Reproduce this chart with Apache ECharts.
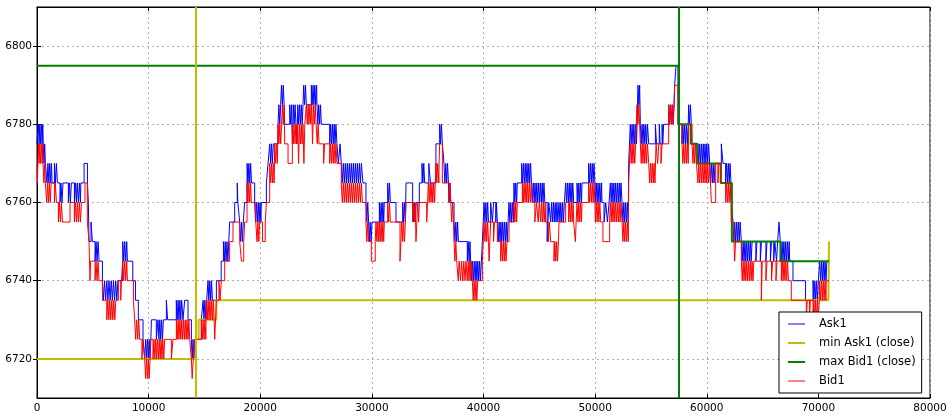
<!DOCTYPE html>
<html>
<head>
<meta charset="utf-8">
<script src="https://cdn.jsdelivr.net/npm/echarts@6.0.0/dist/echarts.min.js"></script>
<style>
  html, body { margin: 0; padding: 0; background: #fff; }
  #chart { width: 952px; height: 419px; }
</style>
</head>
<body>
<div id="chart"></div>
<script>
// tick index vs best ask / best bid (step lines)
var ask1 = [
  [0,6775],[120,6780],[190,6775],[250,6780],[320,6775],[390,6780],[460,6775],[520,6780],[560,6775],
  [620,6770],[690,6775],[750,6770],
  [900,6765],[980,6770],[1060,6765],[1140,6770],[1220,6765],[1300,6770],[1350,6765],
  [1560,6770],[1650,6765],[1740,6770],[1830,6765],
  [2060,6760],[2150,6765],[2240,6760],[2330,6765],
  [2810,6760],[2900,6765],[2990,6760],[3080,6765],
  [3350,6760],[3440,6765],[3530,6760],[3600,6765],[3710,6760],[3800,6765],[3890,6760],[3930,6765],
  [4220,6770],[4520,6765],[4600,6760],[4660,6750],[4840,6755],[4960,6750],
  [5200,6745],[5290,6750],[5380,6745],[5470,6750],[5560,6745],
  [5860,6740],[5950,6735],[6050,6740],[6150,6735],[6250,6740],[6350,6735],[6450,6740],[6550,6735],[6650,6740],[6750,6735],[6850,6740],[6950,6735],[7050,6740],[7150,6735],[7250,6740],
  [7680,6750],[7770,6745],[7860,6750],[7950,6745],[8040,6750],[8100,6745],
  [8580,6740],[8820,6735],[9080,6730],
  [9500,6725],[9650,6720],[9730,6725],[9810,6720],[9890,6725],[9970,6720],[10050,6725],[10130,6720],[10200,6725],
  [10250,6730],[10690,6725],
  [10840,6730],[10920,6725],[11000,6730],[11080,6725],[11160,6730],[11240,6725],[11320,6730],
  [11590,6735],[11700,6730],
  [12480,6735],[12560,6730],[12640,6735],[12720,6730],[12800,6735],[12880,6730],[12960,6735],[13080,6730],
  [13230,6735],[13530,6730],
  [13830,6725],[13900,6720],[13980,6725],[14060,6720],[14130,6725],
  [14720,6730],[14880,6735],[14960,6730],[15040,6735],[15120,6730],[15200,6735],
  [15320,6740],[15400,6735],[15480,6740],[15560,6735],[15640,6740],[15720,6735],
  [16070,6740],[16500,6745],[16700,6750],[16780,6745],[16860,6750],[16940,6745],[17020,6750],[17100,6745],[17180,6750],
  [17260,6755],[17710,6760],[17940,6765],[17990,6760],[18160,6755],[18240,6750],[18320,6755],[18400,6750],[18480,6755],
  [18600,6760],[18820,6770],[18900,6765],[18980,6770],[19060,6765],[19140,6770],[19220,6765],
  [19500,6760],[19580,6755],[19660,6760],[19740,6755],[19820,6760],[19900,6755],[19980,6760],[20060,6755],[20100,6760],
  [20550,6765],[20700,6770],[20850,6775],[20930,6770],[21010,6775],[21090,6770],[21170,6775],
  [21590,6780],[21670,6785],[21750,6780],[21830,6785],[21900,6790],[21980,6785],[22060,6790],[22140,6785],[22190,6780],
  [22640,6785],[22720,6780],[22800,6785],[22880,6775],[22960,6785],[23040,6780],[23120,6785],[23200,6780],[23280,6775],[23360,6785],[23440,6780],[23520,6785],[23600,6780],[23680,6785],[23760,6780],[23830,6785],
  [23890,6790],[23970,6785],[24050,6790],[24130,6785],
  [24575,6790],[24650,6785],[24730,6790],[24810,6785],[24890,6790],[24970,6785],[25050,6790],
  [25080,6785],[25160,6780],[25240,6785],[25320,6780],[25400,6785],
  [25470,6780],
  [26220,6775],[26300,6780],[26380,6775],[26460,6780],[26540,6775],[26620,6780],[26700,6775],[26780,6780],[26870,6775],
  [27000,6770],[27150,6775],
  [27260,6770],[27350,6765],[27440,6770],[27530,6765],[27620,6770],[27710,6765],[27800,6770],[27890,6765],[27980,6770],[28070,6765],[28160,6770],[28250,6765],[28340,6770],[28430,6765],[28520,6770],[28610,6765],[28700,6770],[28790,6765],[28880,6770],[28970,6765],[29060,6770],[29200,6765],
  [29470,6760],[29550,6755],[29630,6760],[29710,6755],
  [29770,6750],[29850,6755],[29930,6750],[30010,6755],
  [30670,6760],[30750,6755],[30830,6760],[30910,6755],[30990,6760],[31060,6755],[31115,6760],
  [31415,6765],[31500,6760],[31580,6765],[31660,6760],
  [32160,6755],[32760,6760],[32840,6755],[32920,6760],[33000,6755],
  [33060,6765],[33650,6760],[33730,6755],[33810,6760],[33890,6755],[33970,6760],
  [34250,6765],[34490,6770],[34570,6765],[34650,6770],[34730,6765],
  [35100,6770],[35250,6765],
  [35740,6775],[36075,6780],[36150,6775],[36230,6780],[36315,6775],
  [36460,6770],[36540,6765],[36620,6770],[36700,6765],[36780,6770],[36860,6765],
  [36910,6760],[36990,6765],[37070,6760],
  [37360,6755],[37440,6750],[37520,6755],[37600,6750],[37680,6755],[37750,6750],
  [38550,6745],[38630,6750],[38710,6745],[38790,6750],
  [38850,6745],[38930,6740],[39010,6745],[39090,6740],[39170,6745],[39250,6740],[39330,6745],[39410,6740],[39490,6745],[39570,6740],[39650,6745],[39730,6740],[39810,6745],
  [39900,6750],[40050,6760],[40130,6755],[40210,6760],[40290,6755],[40370,6760],[40450,6755],
  [40640,6760],[40800,6755],[40900,6760],[41100,6755],[41160,6760],
  [41240,6755],[41320,6750],[41400,6755],[41480,6750],[41560,6755],[41640,6750],[41720,6755],[41800,6750],[41880,6755],[41960,6750],[42040,6755],[42120,6750],[42200,6755],
  [42285,6760],[42365,6755],[42445,6760],[42525,6755],[42605,6760],[42685,6755],
  [42730,6765],[42810,6760],[42890,6765],[42970,6760],
  [43030,6765],
  [43420,6770],[43500,6765],[43580,6770],[43660,6765],[43740,6770],[43820,6765],[43900,6770],[43980,6765],[44060,6770],[44140,6765],[44220,6770],[44300,6765],
  [44375,6760],[44455,6765],[44535,6760],[44615,6765],[44695,6760],[44775,6765],[44855,6760],[44935,6765],[45015,6760],[45095,6765],[45175,6760],[45255,6765],[45335,6760],[45415,6765],[45495,6760],
  [45700,6750],[45850,6760],
  [46020,6755],[46100,6760],[46180,6755],[46260,6760],[46340,6755],[46420,6760],[46500,6755],[46580,6760],[46660,6755],[46765,6760],
  [46845,6755],[46925,6760],[47005,6755],[47085,6760],[47165,6755],[47245,6760],
  [47360,6765],[47440,6760],[47520,6765],[47600,6760],[47680,6765],[47760,6760],[47840,6765],[47920,6760],[48000,6765],
  [48080,6760],
  [48380,6765],[48460,6760],[48540,6765],[48620,6760],[48700,6765],[48780,6760],
  [48825,6765],
  [49420,6770],[49500,6765],[49580,6770],[49660,6765],[49740,6770],[49820,6765],[49900,6770],[49980,6765],
  [50020,6760],[50100,6765],[50180,6760],[50260,6765],[50340,6760],[50420,6765],[50500,6760],[50580,6765],
  [50615,6760],[50800,6755],[50950,6760],[51100,6755],[51250,6760],
  [51360,6765],[51440,6760],[51520,6765],[51600,6760],[51680,6765],[51760,6760],[51840,6765],[51920,6760],[52000,6765],[52080,6760],[52160,6765],[52240,6760],[52320,6765],
  [52410,6760],[52490,6755],[52570,6760],[52650,6755],[52730,6760],[52810,6755],[52890,6760],[52970,6755],
  [53005,6770],[53150,6780],[53230,6775],[53310,6780],[53390,6775],[53470,6780],[53550,6775],[53630,6780],[53710,6775],
  [53840,6790],[53920,6785],[53990,6790],
  [54050,6780],[54130,6775],[54210,6780],[54290,6775],[54370,6780],[54450,6775],[54530,6780],[54610,6775],[54690,6780],
  [54800,6775],
  [55400,6780],[55500,6775],[55750,6780],[55820,6775],[56000,6780],[56060,6775],
  [56140,6780],
  [56590,6785],[56670,6780],[56750,6785],[56830,6780],[56910,6785],[56990,6780],[57070,6785],
  [57125,6790],[57245,6795],[57425,6780],
  [57780,6775],[57860,6780],[57940,6775],[58020,6780],[58100,6775],[58180,6780],[58260,6775],[58340,6780],
  [58380,6785],[58460,6780],[58540,6785],[58620,6780],
  [58680,6775],
  [59125,6770],[59205,6775],[59285,6770],[59365,6775],[59445,6770],[59525,6775],[59605,6770],[59685,6775],[59765,6770],[59845,6775],[59925,6770],[60005,6775],[60085,6770],[60165,6775],
  [60260,6770],[60340,6765],[60420,6770],[60500,6765],[60580,6770],[60660,6765],[60740,6770],
  [61305,6775],[61455,6770],
  [61690,6765],[61770,6770],[61850,6765],[61930,6770],[62010,6765],[62090,6770],[62170,6765],
  [62200,6760],[62350,6755],[62430,6750],[62510,6755],[62590,6750],[62670,6755],[62750,6750],[62830,6755],[62910,6750],[62990,6755],
  [63100,6750],[63180,6745],[63260,6750],[63340,6745],[63420,6750],[63500,6745],[63580,6750],[63660,6745],[63740,6750],[63820,6745],[63900,6750],[63980,6745],[64060,6750],
  [64400,6745],[64500,6750],[64800,6745],[64900,6750],[65300,6745],[65400,6750],[65700,6745],[65800,6750],[66000,6745],[66100,6750],[66250,6745],[66350,6750],
  [66470,6755],[66590,6750],[66670,6745],[66750,6750],[66830,6745],[66910,6750],[66990,6745],[67070,6750],[67150,6745],[67230,6750],[67310,6745],[67390,6750],
  [67425,6745],[67725,6740],[68850,6735],
  [69520,6740],[69600,6735],[69680,6740],[69760,6735],[69840,6740],[69920,6735],[70000,6740],
  [70115,6745],[70200,6740],[70280,6745],[70360,6740],[70440,6745],[70520,6740],[70600,6745],[70680,6740],[70760,6745],[70950,6745]
];

var bid1 = [
  [0,6770],[40,6765],[80,6770],
  [120,6775],[190,6770],[250,6775],[320,6770],[390,6775],[460,6770],[520,6775],
  [540,6770],[620,6765],[700,6770],
  [750,6765],[870,6760],[950,6765],[1030,6760],[1110,6765],[1190,6760],[1270,6765],
  [1560,6760],[1650,6765],[1740,6760],
  [1920,6755],[2010,6760],[2100,6755],[2190,6760],[2280,6755],
  [2960,6760],
  [3350,6755],[3440,6760],[3530,6755],[3620,6760],[3710,6755],[3800,6760],[3890,6755],[3980,6760],
  [4300,6765],[4510,6755],[4660,6750],[4750,6740],[4800,6745],
  [5200,6740],[5290,6745],[5380,6740],[5470,6745],[5560,6740],
  [5860,6735],[6250,6730],[6340,6735],[6430,6730],[6520,6735],[6610,6730],[6700,6735],[6790,6730],[6880,6735],[6970,6730],[7060,6735],
  [7290,6740],[7500,6735],[7560,6740],
  [7680,6745],[7770,6740],[7860,6745],[7950,6740],[8040,6745],
  [8100,6740],[8640,6735],[8750,6730],[8840,6725],[8930,6730],[9020,6725],[9110,6730],
  [9200,6725],[9400,6720],[9480,6725],
  [9650,6720],[9730,6715],[9810,6720],[9890,6715],[9970,6720],[10050,6715],[10130,6720],
  [10155,6725],[10395,6720],[10475,6725],[10555,6720],[10635,6725],[10715,6720],[10795,6725],[10875,6720],[10955,6725],[11035,6720],[11115,6725],[11195,6720],[11275,6725],[11355,6720],
  [11440,6725],
  [12037,6720],[12186,6725],
  [12485,6730],[12565,6725],[12645,6730],[12725,6725],[12805,6730],[12885,6725],[12965,6730],[13045,6725],[13125,6730],[13205,6725],[13285,6730],[13365,6725],[13445,6730],[13525,6725],[13605,6730],
  [13680,6725],[13830,6720],[13900,6715],[14000,6720],
  [14127,6725],
  [14725,6730],[14805,6725],[14885,6730],[14965,6725],[15045,6730],[15125,6725],
  [15170,6735],[15250,6730],[15330,6735],[15410,6730],[15490,6735],[15570,6730],[15650,6735],[15730,6730],[15810,6735],
  [15920,6725],[16070,6735],
  [16300,6740],[16400,6735],[16515,6740],
  [16815,6745],[17260,6750],[17560,6755],
  [18160,6750],[18310,6745],[18520,6750],
  [18600,6755],
  [18815,6765],[18895,6760],[18975,6765],[19055,6760],[19135,6765],
  [19200,6760],[19600,6755],
  [19710,6750],[19790,6755],[19870,6750],[19950,6755],
  [20200,6750],[20450,6755],
  [20546,6760],
  [20845,6770],[20925,6765],[21005,6770],[21085,6765],[21165,6770],[21245,6765],
  [21293,6775],[21373,6770],[21453,6775],[21533,6770],
  [21592,6780],[21672,6775],[21752,6780],[21832,6775],[21912,6780],
  [21980,6785],[22060,6780],[22140,6785],
  [22190,6775],[22490,6770],[22875,6780],[22955,6775],[23035,6780],[23115,6775],[23195,6780],[23275,6775],[23355,6780],[23435,6770],[23515,6780],[23595,6775],[23675,6780],[23755,6775],
  [23830,6780],[23910,6770],[23990,6780],
  [24130,6785],[24210,6780],[24290,6785],[24365,6780],[24445,6785],[24525,6780],[24605,6785],[24685,6775],[24765,6785],[24845,6780],[24925,6785],[25005,6780],
  [25105,6775],[25185,6780],[25265,6775],
  [25680,6770],[25760,6775],
  [26220,6770],[26300,6775],[26380,6770],[26460,6775],[26540,6770],[26620,6775],[26700,6770],[26780,6775],
  [26870,6770],
  [27260,6765],[27350,6760],[27440,6765],[27530,6760],[27620,6765],[27710,6760],[27800,6765],[27890,6760],[27980,6765],[28070,6760],[28160,6765],[28250,6760],[28340,6765],[28430,6760],[28520,6765],[28610,6760],[28700,6765],[28790,6760],[28880,6765],[28970,6760],[29060,6765],[29150,6760],
  [29470,6755],[29550,6750],[29630,6755],[29710,6750],
  [29950,6745],[30300,6750],
  [30370,6755],[30450,6750],[30530,6755],[30610,6750],
  [30670,6755],[30750,6750],[30830,6755],[30910,6750],[30990,6755],[31060,6750],
  [31115,6755],
  [31415,6760],[31495,6755],[31575,6760],[31655,6755],
  [32520,6745],[32600,6750],[32680,6755],
  [32760,6750],[32840,6755],[32920,6750],[33000,6755],
  [33060,6760],
  [33650,6755],[33730,6760],[33810,6755],[33890,6760],[33950,6750],[34030,6755],[34110,6760],[34190,6755],
  [34250,6760],[34910,6755],[34990,6760],
  [35060,6765],[35140,6760],[35220,6765],[35300,6760],[35380,6765],[35460,6760],[35540,6765],[35620,6760],
  [35740,6770],[35820,6765],[35900,6770],[36000,6765],[36020,6770],
  [36075,6775],[36315,6765],
  [36910,6760],[36990,6765],[37070,6760],
  [37150,6755],[37230,6760],[37310,6755],
  [37360,6750],[37440,6745],[37520,6750],[37600,6745],
  [37740,6740],[37820,6745],[37950,6740],[38030,6745],[38150,6740],[38230,6745],[38350,6740],[38430,6745],[38550,6740],[38630,6745],
  [38700,6740],[38780,6745],[38860,6740],[38940,6745],
  [39000,6740],[39080,6735],[39160,6740],[39240,6735],[39320,6740],[39400,6735],[39480,6740],
  [39900,6745],
  [40050,6755],[40130,6750],[40210,6755],[40290,6750],[40370,6755],[40450,6750],
  [40500,6745],[40640,6755],[40900,6750],[40980,6755],
  [41240,6750],
  [41540,6745],[41620,6750],[41700,6745],[41780,6750],[41860,6745],[41940,6750],[42020,6745],[42100,6750],
  [42285,6755],
  [42730,6760],[42810,6755],[42890,6760],[42970,6755],
  [43030,6760],
  [43480,6765],[43560,6760],[43640,6765],[43720,6760],[43800,6765],[43880,6760],[43960,6765],[44040,6760],[44120,6765],[44200,6760],[44280,6765],
  [44375,6760],[44600,6755],[44750,6760],[44900,6755],[45000,6760],
  [45120,6755],[45200,6760],[45280,6755],[45360,6760],[45440,6755],[45520,6760],
  [45570,6755],[45800,6750],[45900,6755],
  [46020,6750],
  [46315,6745],[46395,6750],[46475,6745],[46555,6750],[46635,6745],[46715,6750],
  [46765,6755],
  [47360,6760],
  [47630,6755],[47710,6760],[47790,6755],[47870,6760],[47950,6755],[48030,6760],
  [48080,6755],[48230,6750],[48300,6755],
  [48380,6760],[48460,6755],[48540,6760],[48620,6755],[48700,6760],[48780,6755],
  [48825,6760],
  [49420,6765],[49500,6760],[49580,6765],[49660,6760],[49740,6765],[49820,6760],[49900,6765],[49980,6760],
  [50020,6755],[50100,6760],[50180,6755],[50260,6760],[50340,6755],[50420,6760],[50500,6755],
  [50700,6750],[51300,6755],
  [51360,6760],[51440,6755],[51520,6760],[51600,6755],[51680,6760],[51760,6755],[51840,6760],[51920,6755],[52000,6760],[52080,6755],[52160,6760],[52240,6755],[52320,6760],
  [52410,6755],[52490,6750],[52570,6755],[52650,6750],[52730,6755],[52810,6750],[52890,6755],[52970,6750],
  [53005,6765],
  [53150,6775],[53230,6770],[53310,6775],[53390,6770],[53470,6775],[53550,6770],[53630,6775],
  [53750,6785],[53830,6780],[53910,6785],[53990,6780],
  [54050,6775],[54130,6770],[54210,6775],[54290,6770],[54370,6775],[54450,6770],[54530,6775],[54610,6770],[54690,6775],
  [54800,6770],[54880,6765],[54960,6770],[55040,6765],[55120,6770],[55200,6765],[55280,6770],[55360,6765],
  [55460,6775],[55600,6770],[55700,6775],[55900,6770],[56000,6775],
  [56590,6785],[56670,6780],[56750,6785],[56830,6780],[56910,6785],[56990,6780],[57070,6785],
  [57125,6790],[57425,6780],
  [57780,6775],[57860,6770],[57940,6775],[58020,6770],[58100,6775],[58180,6770],[58260,6775],[58340,6770],
  [58380,6780],
  [58680,6775],[58760,6770],[58840,6775],[58920,6770],[59000,6775],[59080,6770],
  [59205,6765],[59285,6770],[59365,6765],[59445,6770],[59525,6765],[59605,6770],[59685,6765],[59765,6770],[59845,6765],[59925,6770],[60005,6765],[60085,6770],[60165,6765],
  [60260,6770],[60410,6760],[60800,6770],[61000,6765],[61100,6770],
  [61305,6765],
  [61690,6760],[61770,6765],[61850,6760],[61930,6765],[62010,6760],[62090,6765],[62170,6760],
  [62200,6755],[62440,6750],[62500,6745],[62580,6750],
  [63100,6745],[63180,6740],[63260,6745],[63340,6740],[63420,6745],[63500,6740],[63580,6745],[63660,6740],[63740,6745],[63820,6740],[63900,6745],[63980,6740],[64060,6745],[64140,6740],[64220,6745],
  [64890,6735],[64970,6745],[65300,6740],[65400,6745],[65800,6740],[65900,6745],[66200,6740],[66300,6745],
  [66680,6740],[66760,6745],[66840,6740],[66920,6745],[67000,6740],[67080,6745],[67160,6740],[67240,6745],[67320,6740],
  [67575,6735],
  [68920,6730],[69000,6735],[69200,6730],[69280,6735],
  [69520,6730],[69600,6735],[69680,6730],[69760,6735],[69840,6730],[69920,6735],[70000,6730],[70080,6735],
  [70115,6740],[70195,6735],[70275,6740],[70355,6735],[70435,6740],[70515,6735],[70595,6740],[70675,6735],
  [70710,6740],[70950,6740]
];

// lowest ask / highest bid still to come ("close")
var minAsk1 = [[0,6720],[14220,6725],[14480,6730],[16070,6735],[70900,6735],[70950,6750]];
var maxBid1 = [[0,6795],[57500,6780],[58560,6775],[59160,6770],[61250,6765],[62250,6750],[66600,6745],[70950,6745]];

// where the min ask and the max bid happen
var minAskAt = 14220;
var maxBidAt = 57500;

var xTicks = [0, 80000, 10000];          // min, max, step
var yTicks = [6720, 6740, 6760, 6780, 6800];
var yRange = [6710, 6810];

var font = "'DejaVu Sans', 'Liberation Sans', sans-serif";
var gridLine = { show: true, lineStyle: { color: '#b0b0b0', width: 1, type: [2, 3] } };
var plain = function (v) { return String(v); };
// flat line icons for the legend (thin / thick)
var thinLine = 'path://M0,0H17V1H0Z';
var thickLine = 'path://M0,0H17V2H0Z';

var myChart = echarts.init(document.getElementById('chart'), null, { renderer: 'canvas' });

myChart.setOption({
  animation: false,
  backgroundColor: '#fff',
  grid: { left: 37, right: 22, top: 7, bottom: 21, show: true, borderColor: '#000', borderWidth: 1, containLabel: false },
  legend: {
    orient: 'vertical',
    left: 779,
    top: 312,
    padding: [5, 6, 5, 9],
    itemGap: 5,
    itemWidth: 17,
    itemHeight: 14,
    symbolKeepAspect: true,
    backgroundColor: '#fff',
    borderColor: '#000',
    borderWidth: 1,
    borderRadius: 0,
    textStyle: { fontSize: 11.5, fontFamily: font, color: '#000', padding: [0, 0, 0, 9], lineHeight: 14 },
    data: [
      { name: 'Ask1', icon: thinLine },
      { name: 'min Ask1 (close)', icon: thickLine },
      { name: 'max Bid1 (close)', icon: thickLine },
      { name: 'Bid1', icon: thinLine }
    ]
  },
  xAxis: [{
    type: 'value',
    position: 'bottom',
    min: xTicks[0], max: xTicks[1], interval: xTicks[2],
    axisLine: { show: true, lineStyle: { color: '#000', width: 1 } },
    axisTick: { show: true, inside: true, length: 4, lineStyle: { color: '#000' } },
    axisLabel: { fontSize: 10.5, fontFamily: font, color: '#000', margin: 5, showMinLabel: true, showMaxLabel: true, formatter: plain },
    splitLine: gridLine
  }, {
    type: 'value',
    position: 'top',
    min: xTicks[0], max: xTicks[1], interval: xTicks[2],
    axisLine: { show: true, lineStyle: { color: '#000', width: 1 } },
    axisTick: { show: true, inside: true, length: 4, lineStyle: { color: '#000' } },
    axisLabel: { show: false },
    splitLine: { show: false }
  }],
  yAxis: [{
    type: 'value',
    position: 'left',
    min: yRange[0], max: yRange[1],
    axisLine: { show: true, lineStyle: { color: '#000', width: 1 } },
    axisTick: { show: true, inside: true, length: 4, lineStyle: { color: '#000' }, customValues: yTicks },
    axisLabel: { fontSize: 10.5, fontFamily: font, color: '#000', margin: 5, customValues: yTicks, formatter: plain },
    splitLine: gridLine
  }, {
    type: 'value',
    position: 'right',
    min: yRange[0], max: yRange[1],
    axisLine: { show: true, lineStyle: { color: '#000', width: 1 } },
    axisTick: { show: true, inside: true, length: 4, lineStyle: { color: '#000' }, customValues: yTicks },
    axisLabel: { show: false, customValues: yTicks },
    splitLine: { show: false }
  }],
  series: [{
    name: 'Ask1',
    type: 'line',
    step: 'end',
    data: ask1,
    symbol: 'none',
    showSymbol: false,
    color: '#0000ff',
    lineStyle: { color: '#0000ff', width: 1 }
  }, {
    name: 'min Ask1 (close)',
    type: 'line',
    step: 'end',
    data: minAsk1,
    symbol: 'none',
    showSymbol: false,
    color: '#bfbf00',
    lineStyle: { color: '#bfbf00', width: 2 }
  }, {
    name: 'max Bid1 (close)',
    type: 'line',
    step: 'end',
    data: maxBid1,
    symbol: 'none',
    showSymbol: false,
    color: '#008000',
    lineStyle: { color: '#008000', width: 2 }
  }, {
    name: 'Bid1',
    type: 'line',
    step: 'end',
    data: bid1,
    symbol: 'none',
    showSymbol: false,
    color: '#ff0000',
    lineStyle: { color: '#ff0000', width: 1 }
  }, {
    // vertical markers
    type: 'line',
    data: [],
    z: 5,
    markLine: {
      silent: true,
      symbol: 'none',
      label: { show: false },
      animation: false,
      data: [
        { xAxis: minAskAt, lineStyle: { color: '#bfbf00', width: 2, type: 'solid' } },
        { xAxis: maxBidAt, lineStyle: { color: '#008000', width: 2, type: 'solid' } }
      ]
    }
  }]
});
window.onresize = myChart.resize;
</script>
</body>
</html>
